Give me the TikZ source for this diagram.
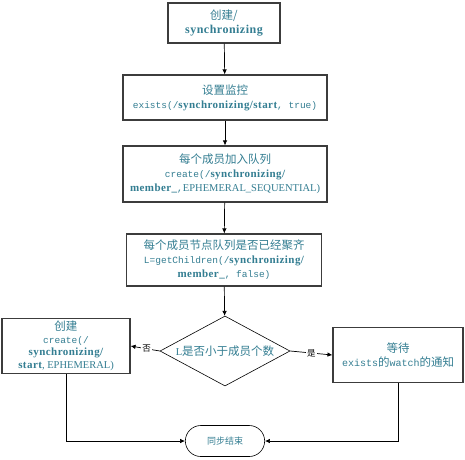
\documentclass[tikz,border=0pt]{standalone}
\usepackage{fontspec}
\setmainfont{Liberation Serif}
\setmonofont{Liberation Mono}
\newfontfamily\cjk{Noto Sans CJK SC}
\newfontfamily\bsfont[LetterSpace=4]{Liberation Serif Bold}
\usetikzlibrary{shapes.geometric,shapes.misc,arrows.meta}
\definecolor{txt}{RGB}{52,126,146}
\definecolor{bd}{RGB}{60,60,60}
\newcommand{\zh}[1]{{\cjk\fontsize{11.5}{13}\selectfont #1}}
\newcommand{\bs}[1]{{\bsfont\fontsize{11}{13}\selectfont #1}}
\newcommand{\mo}[1]{{\ttfamily\fontsize{9.5}{13}\selectfont #1}}
\begin{document}
\begin{tikzpicture}[x=1pt,y=-1pt,
  box/.style={draw=bd,line width=1.1pt,rectangle,align=center,text=txt,font=\fontsize{10.5}{14}\selectfont,inner sep=1pt},
  dec/.style={draw=black,line width=0.6pt,diamond,aspect=1.86,align=center,text=txt,font=\fontsize{10.5}{13}\selectfont,inner sep=0pt},
  term/.style={draw=black,line width=0.6pt,rounded rectangle,align=center,text=txt},
  arr/.style={draw=black,line width=0.7pt,-{Latex[length=5pt,width=4.5pt]}},
  lbl/.style={fill=white,inner sep=1pt}]
\useasboundingbox (0,0) rectangle (465,459);
\fill[white] (0,0) rectangle (465,459);
\node[box,minimum width=112pt,minimum height=40pt] (b1) at (224,23) {\zh{创建/}\\{\bsfont\fontsize{12}{14}\selectfont synchronizing}};
\node[box,minimum width=204pt,minimum height=45pt] (b2) at (225,97.5) {\zh{设置监控}\\\mo{exists(/}\bs{synchronizing/start}\mo{, true)}};
\node[box,minimum width=204pt,minimum height=56pt] (b3) at (225,174) {\zh{每个成员加入队列}\\\mo{create(/}\bs{synchronizing/}\\\bs{member\_}\mo{,}EPHEMERAL\_SEQUENTIAL)};
\node[box,minimum width=195pt,minimum height=52pt] (b4) at (224,260) {\zh{每个成员节点队列是否已经聚齐}\\\mo{L=getChildren(/}\bs{synchronizing/}\\\bs{member\_}\mo{, false)}};
\node[dec,minimum width=130pt,minimum height=70pt] (d) at (225,351) {L\zh{是否小于成员个数}};
\node[box,minimum width=128pt,minimum height=55pt,font=\fontsize{10.5}{12.5}\selectfont] (l) at (66,346) {\zh{创建}\\\mo{create(/}\\\bs{synchronizing/}\\\bs{start}, EPHEMERAL)};
\node[box,minimum width=130pt,minimum height=55pt] (r) at (398,355) {\zh{等待}\\{\ttfamily\fontsize{10}{13}\selectfont exists}\zh{的}{\ttfamily\fontsize{10}{13}\selectfont watch}\zh{的通知}};
\node[term,minimum width=86pt,minimum height=31pt] (e) at (225,441) {{\cjk\fontsize{9}{11}\selectfont 同步结束}};
\draw[arr] (b1) -- (b2);
\draw[arr] (b2) -- (b3);
\draw[arr] (b3) -- (b4);
\draw[arr] (b4) -- (d);
\draw[arr] (d.west) -- node[lbl,pos=0.45]{{\cjk\fontsize{8.5}{10}\selectfont 否}} (l.east);
\draw[arr] (d.east) -- node[lbl,pos=0.5]{{\cjk\fontsize{8.5}{10}\selectfont 是}} (r.west);
\draw[arr] (l.south) |- (e.west);
\draw[arr] (r.south) |- (e.east);
\end{tikzpicture}
\end{document}
